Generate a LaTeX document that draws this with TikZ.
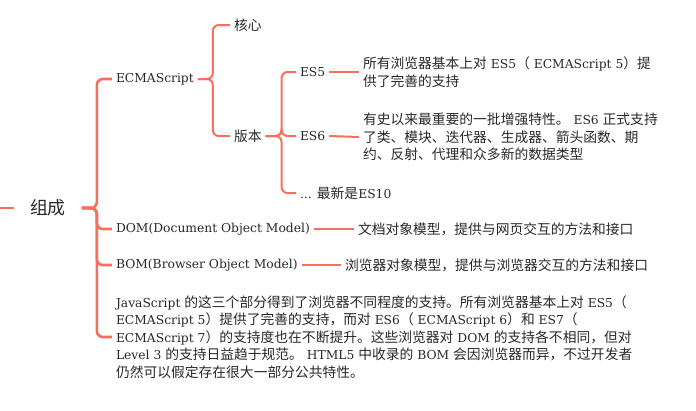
\documentclass[tikz,border=0pt]{standalone}
\usepackage{fontspec}
\setmainfont{DejaVu Serif}
\newfontfamily\cjk[Scale=1.12]{Noto Sans CJK SC}
\newcommand{\zh}[1]{{\cjk #1}}
\definecolor{branchred}{RGB}{250,110,95}
\definecolor{inkgray}{RGB}{40,40,40}

\tikzset{
  topic/.style={anchor=west, inner sep=0pt, outer sep=4pt, align=left,
    text=inkgray, font=\fontsize{12.3}{17.5}\selectfont},
  link/.style={draw=branchred, line width=2pt, rounded corners=6pt},
  mainlink/.style={link, line width=2.6pt},
}

\begin{document}
\begin{tikzpicture}[x=1pt,y=-1pt]
    \useasboundingbox (0,0) rectangle (696,410);

    \coordinate (rootin) at (0,208);
    \node[topic, outer sep=16pt, font=\cjk\fontsize{16}{18}\selectfont] (root) at (14,208) {组成};

    \node[topic] (ecma) at (112,79) {ECMAScript};
    \node[topic] (dom) at (112,229) {DOM(Document Object Model)};
    \node[topic] (bom) at (112,265) {BOM(Browser Object Model)};
    \node[topic] (para) at (112,337) {JavaScript \zh{的这三个部分得到了浏览器不同程度的支持。所有浏览器基本上对} ES5\zh{（}\\
        ECMAScript 5\zh{）提供了完善的支持，而对} ES6\zh{（} ECMAScript 6\zh{）和} ES7\zh{（}\\
        ECMAScript 7\zh{）的支持度也在不断提升。这些浏览器对} DOM \zh{的支持各不相同，但对}\\
        Level 3 \zh{的支持日益趋于规范。} HTML5 \zh{中收录的} BOM \zh{会因浏览器而异，不过开发者}\\
        \zh{仍然可以假定存在很大一部分公共特性。}};

    \node[topic] (core) at (230,25) {\zh{核心}};
    \node[topic] (ver) at (230,136) {\zh{版本}};

    \node[topic] (es5) at (296,72) {ES5};
    \node[topic] (es6) at (296,136) {ES6};
    \node[topic] (latest) at (296,193) {... \zh{最新是}ES10};

    \node[topic] (es5d) at (359,72) {\zh{所有浏览器基本上对} ES5\zh{（} ECMAScript 5\zh{）提}\\
        \zh{供了完善的支持}};
    \node[topic] (es6d) at (359,137) {\zh{有史以来最重要的一批增强特性。} ES6 \zh{正式支持}\\
        \zh{了类、模块、迭代器、生成器、箭头函数、期}\\
        \zh{约、反射、代理和众多新的数据类型}};
    \node[topic] (domd) at (354,229) {\zh{文档对象模型，提供与网页交互的方法和接口}};
    \node[topic] (bomd) at (341,265) {\zh{浏览器对象模型，提供与浏览器交互的方法和接口}};

    \draw[mainlink] (rootin) -- (root.west);
    \foreach \c in {ecma,dom,bom,para}
        \draw[mainlink] (root.east) -- ++(15,0) |- (\c.west);
    \foreach \c in {core,ver}
        \draw[link] (ecma.east) -- ++(15,0) |- (\c.west);
    \foreach \c in {es5,es6,latest}
        \draw[link] (ver.east) -- ++(16,0) |- (\c.west);

    \draw[link] (es5.east) -- (es5d.west);
    \draw[link] (es6.east) -- (es6d.west);
    \draw[link] (dom.east) -- (domd.west);
    \draw[link] (bom.east) -- (bomd.west);
\end{tikzpicture}
\end{document}
